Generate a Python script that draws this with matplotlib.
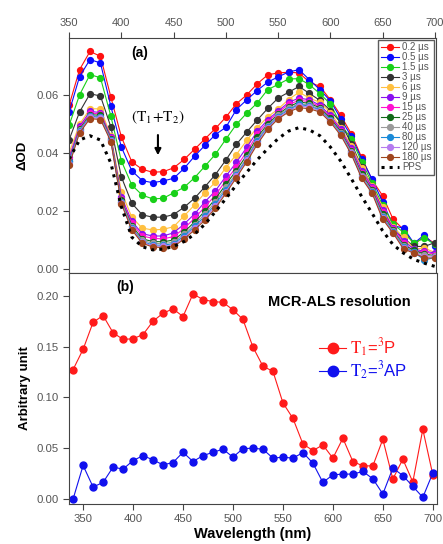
import matplotlib
matplotlib.use("Agg")
import matplotlib.pyplot as plt
import numpy as np

plt.rcParams.update({
    "font.family": "sans-serif",
    "font.sans-serif": ["Liberation Sans", "DejaVu Sans"],
    "font.size": 8,
    "mathtext.fontset": "stix",
    "axes.edgecolor": "#444444",
    "xtick.color": "#444444",
    "ytick.color": "#444444",
    "xtick.labelcolor": "#555555",
    "ytick.labelcolor": "#555555",
})

# ---- panel (a): transient spectra ----
wl_a = np.arange(350, 701, 10)

delays = ["0.2 µs", "0.5 µs", "1.5 µs", "3 µs", "6 µs", "9 µs", "15 µs",
          "25 µs", "40 µs", "80 µs", "120 µs", "180 µs"]
colors = ["#ff1010", "#0a0aff", "#18d018", "#333333", "#ffc040", "#8a10f0",
          "#ff10d0", "#116a18", "#9a9a9a", "#1a8ad8", "#b57bef", "#a0461e"]

od_0p2 = [0.0565, 0.0688, 0.0751, 0.0734, 0.0593, 0.0456, 0.0370, 0.0344, 0.0334, 0.0336,
          0.0349, 0.0378, 0.0413, 0.0449, 0.0485, 0.0524, 0.0570, 0.0601, 0.0639, 0.0670,
          0.0677, 0.0679, 0.0677, 0.0645, 0.0630, 0.0584, 0.0530, 0.0467, 0.0385, 0.0307,
          0.0253, 0.0172, 0.0136, 0.0085, 0.0112, 0.0088]
od_0p5 = [0.0542, 0.0664, 0.0723, 0.0711, 0.0561, 0.0421, 0.0339, 0.0305, 0.0298, 0.0304,
          0.0313, 0.0347, 0.0389, 0.0427, 0.0464, 0.0489, 0.0550, 0.0584, 0.0616, 0.0645,
          0.0663, 0.0680, 0.0688, 0.0653, 0.0619, 0.0580, 0.0519, 0.0458, 0.0380, 0.0310,
          0.0232, 0.0150, 0.0141, 0.0089, 0.0118, 0.0080]
od_1p5 = [0.0496, 0.0601, 0.0671, 0.0660, 0.0527, 0.0373, 0.0290, 0.0255, 0.0242, 0.0244,
          0.0263, 0.0282, 0.0315, 0.0355, 0.0396, 0.0448, 0.0499, 0.0538, 0.0573, 0.0619,
          0.0637, 0.0656, 0.0657, 0.0636, 0.0605, 0.0570, 0.0499, 0.0450, 0.0370, 0.0296,
          0.0220, 0.0156, 0.0126, 0.0090, 0.0107, 0.0085]
od_3 = [0.0446, 0.0542, 0.0605, 0.0597, 0.0490, 0.0318, 0.0227, 0.0187, 0.0179, 0.0179,
        0.0188, 0.0213, 0.0244, 0.0284, 0.0326, 0.0376, 0.0430, 0.0473, 0.0514, 0.0554,
        0.0590, 0.0610, 0.0630, 0.0606, 0.0582, 0.0547, 0.0505, 0.0433, 0.0353, 0.0286,
        0.0210, 0.0135, 0.0107, 0.0078, 0.0078, 0.0091]
od_6 = [0.0401, 0.0500, 0.0553, 0.0553, 0.0460, 0.0267, 0.0179, 0.0141, 0.0135, 0.0137,
        0.0146, 0.0183, 0.0221, 0.0263, 0.0300, 0.0350, 0.0395, 0.0444, 0.0488, 0.0525,
        0.0552, 0.0585, 0.0610, 0.0590, 0.0575, 0.0540, 0.0488, 0.0425, 0.0350, 0.0285,
        0.0215, 0.0145, 0.0110, 0.0070, 0.0072, 0.0057]
od_9 = [0.0385, 0.0492, 0.0544, 0.0540, 0.0455, 0.0250, 0.0165, 0.0122, 0.0114, 0.0114,
        0.0125, 0.0155, 0.0190, 0.0232, 0.0270, 0.0320, 0.0368, 0.0420, 0.0475, 0.0515,
        0.0545, 0.0575, 0.0590, 0.0584, 0.0565, 0.0530, 0.0482, 0.0418, 0.0340, 0.0282,
        0.0205, 0.0142, 0.0098, 0.0068, 0.0062, 0.0055]
od_15 = [0.0378, 0.0487, 0.0538, 0.0535, 0.0452, 0.0243, 0.0158, 0.0114, 0.0106, 0.0104,
         0.0112, 0.0140, 0.0175, 0.0215, 0.0255, 0.0305, 0.0352, 0.0405, 0.0465, 0.0508,
         0.0540, 0.0568, 0.0582, 0.0578, 0.0560, 0.0525, 0.0478, 0.0412, 0.0333, 0.0278,
         0.0198, 0.0138, 0.0090, 0.0062, 0.0060, 0.0050]
od_25 = [0.0372, 0.0482, 0.0533, 0.0530, 0.0450, 0.0237, 0.0150, 0.0104, 0.0095, 0.0094,
         0.0100, 0.0128, 0.0162, 0.0200, 0.0242, 0.0292, 0.0340, 0.0393, 0.0455, 0.0500,
         0.0534, 0.0560, 0.0576, 0.0572, 0.0556, 0.0520, 0.0474, 0.0408, 0.0327, 0.0273,
         0.0190, 0.0133, 0.0084, 0.0064, 0.0052, 0.0046]
od_40 = [0.0368, 0.0479, 0.0529, 0.0526, 0.0447, 0.0233, 0.0145, 0.0099, 0.0089, 0.0087,
         0.0093, 0.0120, 0.0153, 0.0190, 0.0232, 0.0282, 0.0330, 0.0384, 0.0447, 0.0495,
         0.0530, 0.0555, 0.0570, 0.0566, 0.0552, 0.0516, 0.0470, 0.0404, 0.0322, 0.0269,
         0.0184, 0.0130, 0.0080, 0.0060, 0.0048, 0.0045]
od_80 = [0.0372, 0.0476, 0.0527, 0.0523, 0.0445, 0.0230, 0.0141, 0.0095, 0.0083, 0.0082,
         0.0088, 0.0114, 0.0147, 0.0182, 0.0224, 0.0274, 0.0325, 0.0379, 0.0441, 0.0490,
         0.0526, 0.0550, 0.0568, 0.0562, 0.0549, 0.0513, 0.0467, 0.0401, 0.0318, 0.0266,
         0.0180, 0.0128, 0.0076, 0.0058, 0.0031, 0.0040]
od_120 = [0.0362, 0.0473, 0.0523, 0.0520, 0.0442, 0.0228, 0.0138, 0.0092, 0.0080, 0.0078,
          0.0083, 0.0108, 0.0141, 0.0175, 0.0217, 0.0267, 0.0320, 0.0375, 0.0436, 0.0486,
          0.0522, 0.0546, 0.0563, 0.0558, 0.0546, 0.0510, 0.0464, 0.0399, 0.0316, 0.0264,
          0.0176, 0.0126, 0.0072, 0.0057, 0.0042, 0.0042]
od_180 = [0.0358, 0.0470, 0.0519, 0.0516, 0.0440, 0.0225, 0.0135, 0.0089, 0.0076, 0.0074,
          0.0078, 0.0103, 0.0135, 0.0169, 0.0210, 0.0261, 0.0315, 0.0370, 0.0430, 0.0482,
          0.0518, 0.0542, 0.0557, 0.0553, 0.0542, 0.0507, 0.0461, 0.0396, 0.0313, 0.0261,
          0.0172, 0.0124, 0.0069, 0.0055, 0.0038, 0.0038]
spectra = [od_0p2, od_0p5, od_1p5, od_3, od_6, od_9, od_15, od_25, od_40, od_80,
           od_120, od_180]

# steady-state PPS reference spectrum
pps = [0.0380, 0.0445, 0.0460, 0.0445, 0.0365, 0.0215, 0.0110, 0.0077, 0.0066, 0.0069,
       0.0078, 0.0095, 0.0120, 0.0155, 0.0198, 0.0243, 0.0290, 0.0334, 0.0377, 0.0415,
       0.0450, 0.0476, 0.0488, 0.0480, 0.0460, 0.0421, 0.0372, 0.0312, 0.0250, 0.0192,
       0.0132, 0.0084, 0.0055, 0.0033, 0.0020, 0.0009]

# ---- panel (b): MCR-ALS component spectra ----
wl_b = np.arange(340, 701, 10)
t1_3p = [0.1275, 0.1474, 0.1740, 0.1807, 0.1637, 0.1572, 0.1578, 0.1620, 0.1751, 0.1830,
         0.1873, 0.1797, 0.2020, 0.1964, 0.1944, 0.1937, 0.1863, 0.1768, 0.1496, 0.1307,
         0.1258, 0.0947, 0.0794, 0.0542, 0.0477, 0.0532, 0.0402, 0.0598, 0.0369, 0.0326,
         0.0326, 0.0588, 0.0196, 0.0392, 0.0167, 0.0686, 0.0238]
t2_3ap = [0.0000, 0.0330, 0.0118, 0.0163, 0.0314, 0.0294, 0.0378, 0.0427, 0.0385, 0.0336,
          0.0359, 0.0460, 0.0369, 0.0427, 0.0460, 0.0490, 0.0412, 0.0496, 0.0500, 0.0490,
          0.0402, 0.0412, 0.0402, 0.0457, 0.0353, 0.0163, 0.0238, 0.0245, 0.0245, 0.0271,
          0.0199, 0.0049, 0.0304, 0.0231, 0.0124, 0.0016, 0.0255]

fig = plt.figure(figsize=(4.43, 5.44), dpi=100, facecolor="white")
ax_a = fig.add_axes([0.156, 0.498, 0.828, 0.432])
ax_b = fig.add_axes([0.156, 0.074, 0.830, 0.424])

for lab, col, vals in zip(delays, colors, spectra):
    ax_a.plot(wl_a, vals, "-o", color=col, lw=0.8, ms=4.2, mec=col, label=lab)
ax_a.plot(wl_a, pps, ":", color="black", lw=2.2, label="PPS")

ax_a.set_xlim(350, 701)
ax_a.set_ylim(-0.0014, 0.0797)
ax_a.set_xticks(np.arange(350, 701, 50))
ax_a.set_yticks([0.00, 0.02, 0.04, 0.06])
ax_a.tick_params(axis="x", top=True, labeltop=True, bottom=True, labelbottom=False,
                 direction="out", length=4, labelsize=8)
ax_a.tick_params(axis="y", direction="out", length=4, labelsize=8.2)
ax_a.set_ylabel("ΔOD", fontsize=9.5, fontweight="bold", labelpad=6)

leg = ax_a.legend(loc="upper right", fontsize=7, labelspacing=0.0,
                  handlelength=1.9, handletextpad=0.3, borderpad=0.3,
                  borderaxespad=0.15, frameon=True, fancybox=False)
leg.get_frame().set_edgecolor("#333333")
leg.get_frame().set_linewidth(1.0)
for t in leg.get_texts():
    t.set_color("#555555")

ax_a.text(418, 0.0746, "(a)", fontsize=10, fontweight="bold", ha="center", va="center")
ax_a.text(435, 0.0522, r"$(\mathrm{T_1\!+\!T_2})$", fontsize=11, ha="center", va="center")
ax_a.annotate("", xy=(435, 0.0383), xytext=(435, 0.0472),
              arrowprops=dict(arrowstyle="-|>", color="black", lw=1.5,
                              mutation_scale=9))

ax_b.plot(wl_b, t1_3p, "-o", color="#ff1a1a", lw=0.8, ms=5, label=r"$\mathrm{T_1}$=$^3$P")
ax_b.plot(wl_b, t2_3ap, "-o", color="#1010ee", lw=0.8, ms=5, label=r"$\mathrm{T_2}$=$^3$AP")
ax_b.set_xlim(336, 704)
ax_b.set_ylim(-0.0047, 0.2225)
ax_b.set_xticks(np.arange(350, 701, 50))
ax_b.set_yticks([0.00, 0.05, 0.10, 0.15, 0.20])
ax_b.tick_params(direction="out", length=4, labelsize=8.2)
ax_b.set_xlabel("Wavelength (nm)", fontsize=10.5, fontweight="bold", labelpad=2)
ax_b.set_ylabel("Arbitrary unit", fontsize=9.5, fontweight="bold", labelpad=4)
ax_b.text(0.153, 0.94, "(b)", transform=ax_b.transAxes, fontsize=10,
          fontweight="bold", ha="center", va="center")
ax_b.text(0.735, 0.875, "MCR-ALS resolution", transform=ax_b.transAxes,
          fontsize=10.5, fontweight="bold", ha="center", va="center")
leg_b = ax_b.legend(loc="upper left", bbox_to_anchor=(0.64, 0.79), frameon=False,
                    fontsize=12, labelcolor="linecolor", handlelength=1.6,
                    handletextpad=0.25, labelspacing=0.05, markerscale=1.5)

fig.savefig("out.png", dpi=100, facecolor="white")
